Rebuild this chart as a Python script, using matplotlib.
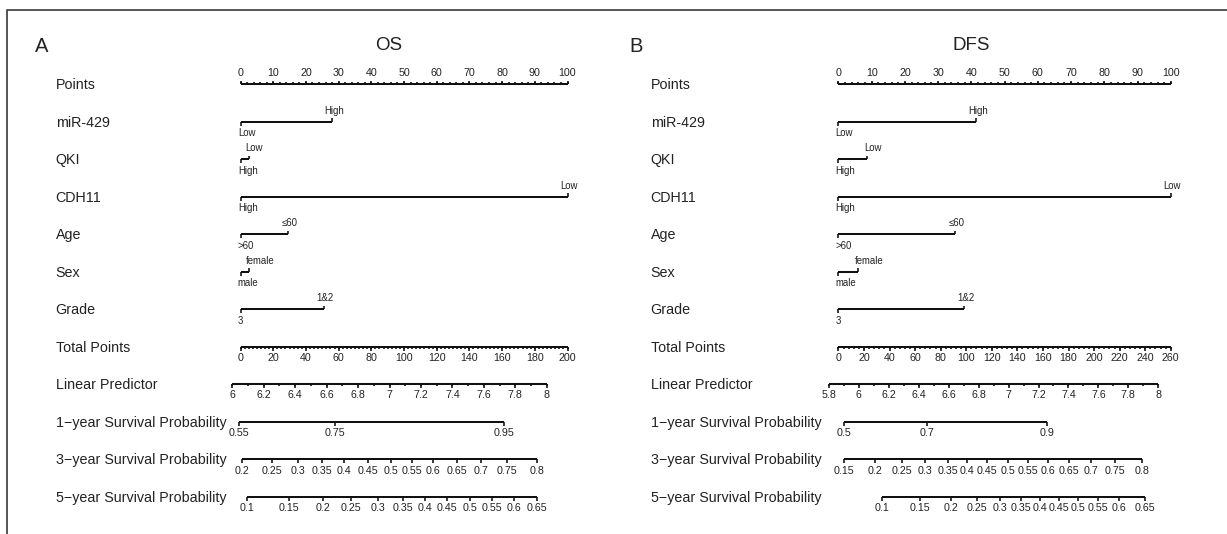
import numpy as np
import matplotlib
matplotlib.use("Agg")
import matplotlib.pyplot as plt
from matplotlib.patches import Rectangle

plt.rcParams["font.family"] = ["Liberation Sans", "DejaVu Sans"]

# ---------------- DATA ----------------

row_names = [
    "Points", "miR-429", "QKI", "CDH11", "Age", "Sex", "Grade",
    "Total Points", "Linear Predictor",
    "1\u2212year Survival Probability",
    "3\u2212year Survival Probability",
    "5\u2212year Survival Probability",
]

# level scored 0 points / level scored the most points
low_levels = ["Low", "High", "High", ">60", "male", "3"]
high_levels = ["High", "Low", "Low", "\u226460", "female", "1&2"]

os_points = [28, 2.5, 100, 14.5, 2.5, 25.4]
dfs_points = [41.4, 8.7, 100, 35.1, 6.0, 37.8]

os_total_max = 200
dfs_total_max = 260

# linear predictor: end values and where they fall on the total points scale
os_lp_range = [6, 8]
os_lp_total = [-5.0, 187.3]
dfs_lp_range = [5.8, 8]
dfs_lp_total = [-7.4, 250.2]

# survival probability ticks and their total points positions
os_surv1 = [0.55, 0.75, 0.95]
os_surv1_total = [-0.9, 57.8, 161.3]
os_surv3 = [0.2, 0.25, 0.3, 0.35, 0.4, 0.45, 0.5, 0.55, 0.6, 0.65, 0.7, 0.75, 0.8]
os_surv3_total = [1.1, 19.1, 35.4, 49.7, 63.5, 77.8, 92.0, 104.6, 117.9, 132.2, 146.9, 162.8, 181.2]
os_surv5 = [0.1, 0.15, 0.2, 0.25, 0.3, 0.35, 0.4, 0.45, 0.5, 0.55, 0.6, 0.65]
os_surv5_total = [3.8, 29.7, 50.3, 67.6, 83.9, 99.2, 112.8, 126.5, 140.4, 153.6, 167.3, 181.2]

dfs_surv1 = [0.5, 0.7, 0.9]
dfs_surv1_total = [4.6, 69.6, 163.4]
dfs_surv3 = [0.15, 0.2, 0.25, 0.3, 0.35, 0.4, 0.45, 0.5, 0.55, 0.6, 0.65, 0.7, 0.75, 0.8]
dfs_surv3_total = [4.5, 28.6, 49.4, 67.6, 85.4, 100.9, 116.4, 132.4, 148.0, 163.7, 180.4, 197.9, 216.3, 237.2]
dfs_surv5 = [0.1, 0.15, 0.2, 0.25, 0.3, 0.35, 0.4, 0.45, 0.5, 0.55, 0.6, 0.65]
dfs_surv5_total = [34.0, 64.0, 88.3, 108.2, 126.6, 143.0, 157.9, 172.8, 187.6, 202.8, 219.6, 239.6]

# ---------------- STYLE ----------------

LW = 1.45
INK = "#111111"
TXT = "#222222"
NARROW = ["Liberation Sans Narrow", "Liberation Sans", "DejaVu Sans"]
TICK_FS = 7.7
LEVEL_FS = 6.9
ROW_FS = 10.3
MAJ = 0.10
MIN = 0.055


def fmt(v):
    return f"{round(v, 3):g}"


def axis_line(ax, y, x0, x1):
    ax.plot([x0, x1], [y, y], color=INK, lw=LW, solid_capstyle="butt")


def ticks(ax, xs, y, length):
    ax.vlines(xs, y, y + length, color=INK, lw=LW * 0.8)


def draw_panel(ax, letter, title, title_x, pts, total_max, minor_total,
               lp_range, lp_total, surv):
    scale = 100.0 / total_max  # total points -> points units

    ax.text(-63, -1.0, letter, fontsize=14.5, color=TXT, ha="left", va="center")
    ax.text(title_x, -1.03, title, fontsize=13.5, color=TXT, ha="center", va="center")

    for i, name in enumerate(row_names):
        ax.text(-56.5, i + 0.03, name, fontsize=ROW_FS, color=TXT,
                ha="left", va="center")

    # Points
    axis_line(ax, 0, 0, 100)
    ticks(ax, np.arange(0, 101, 2), 0, -MIN)
    ticks(ax, np.arange(0, 101, 10), 0, -MAJ)
    for v in range(0, 101, 10):
        ax.text(v, -0.3, str(v), fontsize=TICK_FS, family=NARROW, color=TXT,
                ha="center", va="center")

    # predictors
    for k, p in enumerate(pts):
        y = k + 1
        axis_line(ax, y, 0, p)
        ticks(ax, [0], y, MAJ)
        ticks(ax, [p], y, -MAJ)
        ax.text(-0.8, y + 0.3, low_levels[k], fontsize=LEVEL_FS, color=TXT,
                ha="left", va="center")
        if p < 10:
            ax.text(p - 1, y - 0.29, high_levels[k], fontsize=LEVEL_FS,
                    color=TXT, ha="left", va="center")
        else:
            ax.text(p + 0.5, y - 0.29, high_levels[k], fontsize=LEVEL_FS,
                    color=TXT, ha="center", va="center")

    # Total Points
    y = 7
    axis_line(ax, y, 0, 100)
    ticks(ax, np.arange(0, total_max + 0.01, minor_total) * scale, y, MIN)
    ticks(ax, np.arange(0, total_max + 1, 20) * scale, y, MAJ)
    for v in range(0, total_max + 1, 20):
        ax.text(v * scale, y + 0.31, str(v), fontsize=TICK_FS, family=NARROW,
                color=TXT, ha="center", va="center")

    # Linear Predictor
    y = 8
    slope = (lp_total[1] - lp_total[0]) / (lp_range[1] - lp_range[0])
    lp_major = np.round(np.arange(lp_range[0], lp_range[1] + 1e-6, 0.2), 2)
    lp_minor = np.round(np.arange(lp_range[0], lp_range[1] + 1e-6, 0.1), 2)
    to_x = lambda v: (lp_total[0] + (v - lp_range[0]) * slope) * scale
    axis_line(ax, y, to_x(lp_range[0]), to_x(lp_range[1]))
    ticks(ax, to_x(lp_minor), y, MIN)
    ticks(ax, to_x(lp_major), y, MAJ)
    for v in lp_major:
        ax.text(to_x(v), y + 0.29, fmt(v), fontsize=TICK_FS, family=NARROW,
                color=TXT, ha="center", va="center")

    # survival probabilities
    for j, (probs, tot) in enumerate(surv):
        y = 9 + j
        xs = np.array(tot) * scale
        axis_line(ax, y, xs[0], xs[-1])
        ticks(ax, xs, y, MAJ)
        for v, x in zip(probs, xs):
            ax.text(x, y + 0.31, fmt(v), fontsize=TICK_FS, family=NARROW,
                    color=TXT, ha="center", va="center")


fig = plt.figure(figsize=(12.27, 5.34), dpi=100)

W, H = 1227.0, 534.0
row0_px, row_step = 84.3, 37.5
ylim = ((H - row0_px) / row_step, -row0_px / row_step)

# panel A: points 0 at 240.5 px, 100 at 567.5 px
axA = fig.add_axes([0, 0, 0.5, 1])
pxA0, pxA = 240.5, 3.27
axA.set_xlim((0 - pxA0) / pxA, (W / 2 - pxA0) / pxA)
axA.set_ylim(*ylim)
axA.axis("off")

# panel B: points 0 at 838.4 px, 100 at 1170.8 px
axB = fig.add_axes([0.5, 0, 0.5, 1])
pxB0, pxB = 838.4, 3.324
axB.set_xlim((W / 2 - pxB0) / pxB, (W - pxB0) / pxB)
axB.set_ylim(*ylim)
axB.axis("off")

draw_panel(axA, "A", "OS", 45.3, os_points, os_total_max, 2.5,
           os_lp_range, os_lp_total,
           [(os_surv1, os_surv1_total), (os_surv3, os_surv3_total),
            (os_surv5, os_surv5_total)])

draw_panel(axB, "B", "DFS", 39.9, dfs_points, dfs_total_max, 4,
           dfs_lp_range, dfs_lp_total,
           [(dfs_surv1, dfs_surv1_total), (dfs_surv3, dfs_surv3_total),
            (dfs_surv5, dfs_surv5_total)])

# outer frame (runs off the right and bottom edges)
fig.patches.append(Rectangle((7 / W, -0.5), 2, 1 - 10 / H + 0.5,
                             transform=fig.transFigure, fill=False,
                             edgecolor="#3a3a3a", lw=1.2))

fig.savefig("out.png", dpi=100)
plt.close(fig)
